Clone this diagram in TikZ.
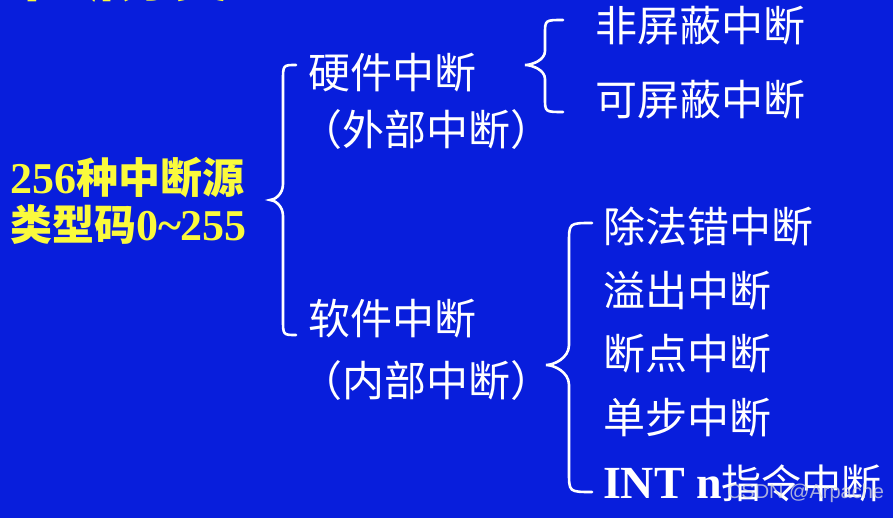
\documentclass[tikz,border=0pt]{standalone}
\usepackage{fontspec}
\setmainfont{Liberation Serif}
\newfontfamily\cjk{Noto Sans CJK SC}
\newfontfamily\wmfont{Liberation Sans}
\definecolor{bg}{RGB}{8,30,220}
\definecolor{ylw}{RGB}{250,250,60}
\newcommand\mybrace[7]{% end x, line x, tip x, top y, mid y, bottom y, radius
  \draw[brc] (#1,#4) .. controls (#2,#4) and (#2,#4) .. (#2,{#4+#7})
    -- (#2,{#5-#7}) .. controls (#2,{#5-0.35*#7}) and ({#3+0.35*(#2-#3)},#5) .. (#3,#5)
    .. controls ({#3+0.35*(#2-#3)},#5) and (#2,{#5+0.35*#7}) .. (#2,{#5+#7})
    -- (#2,{#6-#7}) .. controls (#2,#6) and (#2,#6) .. (#1,#6);}
\begin{document}
\begin{tikzpicture}[x=1pt,y=-1pt,
  every node/.style={inner sep=0pt,outer sep=0pt,anchor=west},
  wt/.style={text=white,font=\fontsize{42}{50}\selectfont\cjk,text height=37pt,text depth=5pt},
  yt/.style={text=ylw,font=\fontsize{42}{50}\selectfont\cjk\bfseries,text height=37pt,text depth=5pt},
  brc/.style={draw=white,line width=2.6pt,line cap=round}]
\fill[bg] (0,0) rectangle (893,518);
\useasboundingbox (0,0) rectangle (893,518);
\begin{scope}
  \clip (0,0) rectangle (893,518);
  \node[text=ylw,font=\fontsize{56}{60}\selectfont\cjk\bfseries,anchor=base west] (ttl) at (5,-3) {中断分类};
\end{scope}
% left block
\node[yt] (src) at (10,178) {{\rmfamily\bfseries\fontsize{44}{50}\selectfont 256}种中断源};
\node[yt] (code) at (10,225) {类型码{\rmfamily\bfseries\fontsize{44}{50}\selectfont 0\textasciitilde 255}};
% middle
\node[wt] (hw) at (308,73) {硬件中断};
\node[wt] (hwx) at (300,130) {（外部中断）};
\node[wt] (sw) at (308,318) {软件中断};
\node[wt] (swx) at (300,380) {（内部中断）};
% right top
\node[wt] (nmi) at (595,26) {非屏蔽中断};
\node[wt] (mi) at (595,100) {可屏蔽中断};
% right bottom
\node[wt] (div) at (603,227) {除法错中断};
\node[wt] (ovf) at (603,290) {溢出中断};
\node[wt] (brk) at (603,353) {断点中断};
\node[wt] (stp) at (603,417) {单步中断};
\node[wt] (intn) at (603,482) {{\rmfamily\bfseries\fontsize{46}{50}\selectfont INT n}{\fontsize{40}{50}\selectfont 指令中断}};
% braces
\mybrace{296}{283}{270}{65}{200}{335}{16}
\mybrace{563}{545}{525}{20}{65}{112}{14}
\mybrace{592}{569}{546}{223}{365}{492}{20}
% watermark
\node[text=white!75!gray,opacity=0.75,font=\fontsize{20}{24}\selectfont\wmfont] (wm) at (727,493) {CSDN @Arpache};
\end{tikzpicture}
\end{document}
